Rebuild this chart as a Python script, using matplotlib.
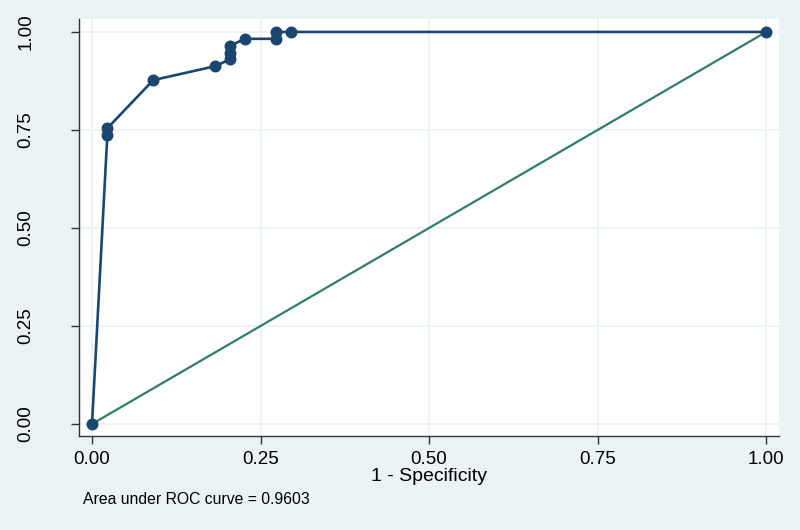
import matplotlib
matplotlib.use("Agg")
import matplotlib.pyplot as plt
import numpy as np

# ROC points (1 - specificity, sensitivity)
fpr = [0.0, 1/44, 1/44, 4/44, 8/44, 9/44, 9/44, 9/44, 10/44, 12/44, 12/44, 13/44, 1.0]
tpr = [0.0, 42/57, 43/57, 50/57, 52/57, 53/57, 54/57, 55/57, 56/57, 56/57, 57/57, 57/57, 1.0]
ref_x = [0.0, 1.0]
ref_y = [0.0, 1.0]
ticks = [0.0, 0.25, 0.5, 0.75, 1.0]
tick_labels = ["0.00", "0.25", "0.50", "0.75", "1.00"]
xlabel = "1 - Specificity"
note = "Area under ROC curve = 0.9603"

BG = "#eaf2f3"
NAVY = "#1a476f"
GREEN = "#327c6e"
GRID = "#edf3f4"

plt.rcParams['font.family'] = ['Liberation Sans', 'DejaVu Sans']

fig = plt.figure(figsize=(8, 5.3), dpi=100, facecolor=BG)
ax = fig.add_axes([79/800, 1-436/530, 700/800, (436-19)/530])
ax.set_facecolor("white")

ax.plot(ref_x, ref_y, color=GREEN, lw=1.6, zorder=2)
ax.plot(fpr, tpr, color=NAVY, lw=1.9, marker="o", markersize=7.6, zorder=3)

ax.set_xlim(-0.0193, 1.019)
ax.set_ylim(-0.0306, 1.033)
ax.set_xticks(ticks)
ax.set_xticklabels(tick_labels)
ax.set_yticks(ticks)
ax.set_yticklabels(tick_labels, rotation=90, va="center")
ax.grid(True, color=GRID, lw=1.4, zorder=0)
ax.set_axisbelow(True)

for s in ["top", "right"]:
    ax.spines[s].set_visible(False)
for s in ["left", "bottom"]:
    ax.spines[s].set_color("#333333")
    ax.spines[s].set_linewidth(1.0)

ax.tick_params(axis="x", length=6, width=1, color="#333333", labelsize=13.5, pad=5)
ax.tick_params(axis="y", length=6, width=1, color="#333333", labelsize=13.5, pad=26)
ax.set_xlabel(xlabel, fontsize=14, labelpad=0)

fig.text(83/800, 1-500/530, note, fontsize=11.3, va="center", ha="left")

fig.savefig("out.png", dpi=100, facecolor=BG)
